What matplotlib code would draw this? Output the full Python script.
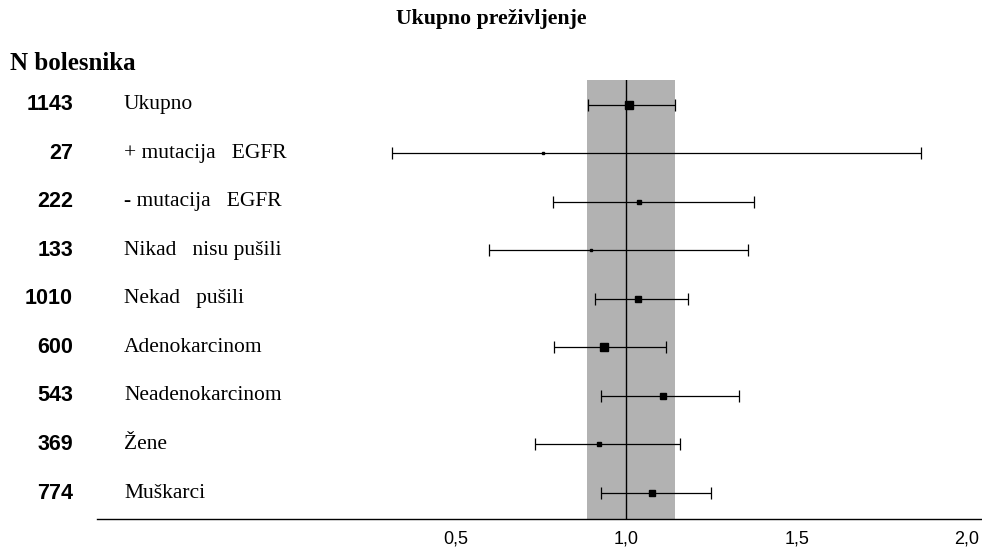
import numpy as np
import matplotlib.pyplot as plt

# forest plot data (hazard ratio, 95% CI)
n_pts = ['1143', '27', '222', '133', '1010', '600', '543', '369', '774']
groups = ['Ukupno', '+ mutacija   EGFR', '- mutacija   EGFR', 'Nikad   nisu pušili',
          'Nekad   pušili', 'Adenokarcinom', 'Neadenokarcinom', 'Žene', 'Muškarci']
hr = [1.009, 0.756, 1.038, 0.896, 1.035, 0.935, 1.109, 0.920, 1.074]
ci_lo = [0.888, 0.312, 0.784, 0.598, 0.907, 0.787, 0.926, 0.732, 0.926]
ci_hi = [1.144, 1.865, 1.374, 1.357, 1.181, 1.116, 1.330, 1.156, 1.247]
band = (0.885, 1.142)
xticks = [0.5, 1.0, 1.5, 2.0]
xticklabels = ['0,5', '1,0', '1,5', '2,0']

msize = [5.5, 1.5, 3.5, 1.5, 5, 5.5, 4, 3.5, 4.5]  # marker sizes

fig = plt.figure(figsize=(9.82, 5.48), dpi=100)
ax = fig.add_axes([97/982, 29/548, 1 - 97/982, 439/548])

y = np.arange(len(groups))
ax.axvspan(band[0], band[1], color='#b2b2b2', lw=0, zorder=0)
ax.axvline(1.0, color='black', lw=1.0, zorder=1)
for i in range(len(groups)):
    ax.errorbar(hr[i], y[i], xerr=[[hr[i] - ci_lo[i]], [ci_hi[i] - hr[i]]],
                fmt='s', color='black', ms=msize[i], capsize=4, elinewidth=0.9,
                capthick=0.9, zorder=3)

ax.set_xlim(-0.554, 2.044)
ax.set_ylim(8.536, -0.515)
for s in ['top', 'right', 'left']:
    ax.spines[s].set_visible(False)
ax.spines['bottom'].set_linewidth(1.0)
ax.set_yticks([])
ax.set_xticks(xticks)
ax.set_xticklabels(xticklabels, fontsize=13, family='Liberation Sans')
ax.tick_params(axis='x', length=0, pad=8)

tr_fig = plt.matplotlib.transforms.blended_transform_factory(fig.transFigure, ax.transData)
for i in range(len(groups)):
    ax.text(73/982, y[i], n_pts[i], transform=tr_fig, ha='right', va='center',
            fontsize=15.5, fontweight='bold', family='Liberation Sans', clip_on=False)
    ax.text(124/982, y[i], groups[i], transform=tr_fig, ha='left', va='center',
            fontsize=15.5, family='Liberation Serif', clip_on=False)

fig.text(0.5, 1 - 19/548, 'Ukupno preživljenje', ha='center', va='center',
         fontsize=15.7, fontweight='bold', family='Liberation Serif')
fig.text(10/982, 1 - 64/548, 'N bolesnika', ha='left', va='center',
         fontsize=18, fontweight='bold', family='Liberation Serif')

plt.savefig('out.png', dpi=100)
